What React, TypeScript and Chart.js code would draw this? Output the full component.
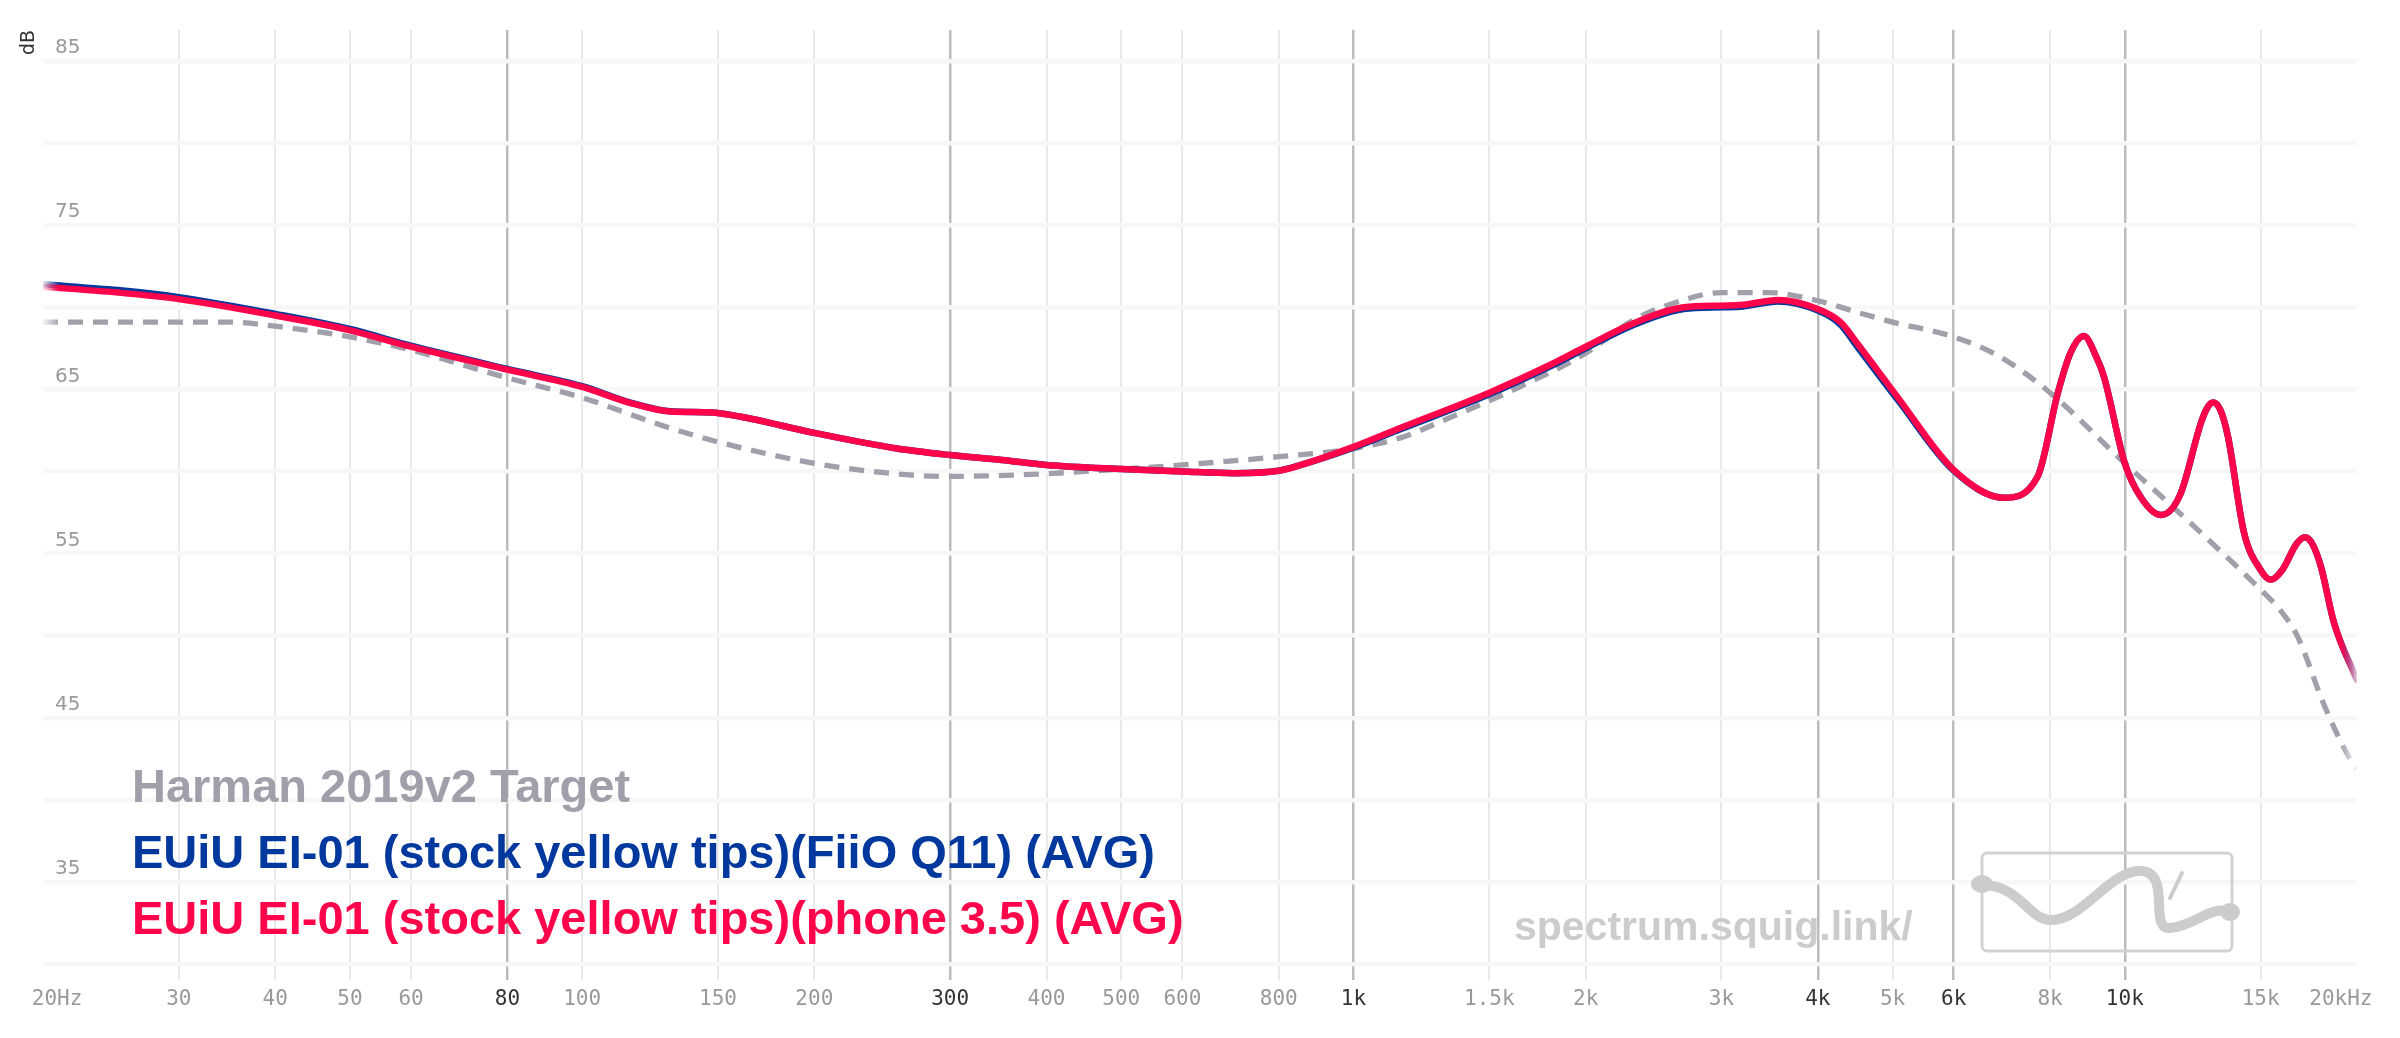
import React, { useEffect, useRef } from "react"
import { Chart, registerables } from "chart.js"

Chart.register(...registerables)

// measured curves (Hz / dB)
const measFreq = [20, 25, 30, 40, 50, 60, 80, 100, 115, 130, 147, 160, 200, 256, 300, 350, 400, 500, 600, 700, 800, 855, 1000, 1150, 1500, 1800, 2000, 2300, 2680, 3000, 3200, 3550, 4000, 4280, 4500, 5080, 6000, 6970, 7710, 8190, 8500, 8850, 9200, 9400, 10000, 10500, 11140, 11800, 12560, 12800, 13010, 13300, 13610, 14270, 15000, 15460, 16000, 16700, 17120, 17500, 17960, 18670, 20000]
const phoneDb = [71.25, 70.9, 70.5, 69.5, 68.6, 67.6, 66.2, 65.15, 64.2, 63.65, 63.6, 63.35, 62.35, 61.4, 61.0, 60.7, 60.4, 60.15, 60.0, 59.9, 60.05, 60.4, 61.5, 62.65, 64.8, 66.5, 67.6, 69.0, 70.0, 70.1, 70.15, 70.45, 69.9, 69.1, 67.8, 64.5, 60.1, 58.4, 59.7, 64.8, 67.2, 68.25, 66.9, 65.75, 60.5, 58.4, 57.35, 58.6, 63.0, 63.9, 64.2, 63.75, 62.1, 56.3, 54.0, 53.4, 54.0, 55.6, 56.0, 55.6, 54.2, 50.8, 47.3]
const fiioDb = [71.4, 71.05, 70.62, 69.6, 68.68, 67.66, 66.25, 65.2, 64.23, 63.67, 63.6, 63.35, 62.35, 61.4, 61.0, 60.7, 60.4, 60.15, 60.0, 59.9, 60.05, 60.4, 61.45, 62.57, 64.7, 66.4, 67.5, 68.9, 69.9, 70.0, 70.05, 70.35, 69.8, 68.95, 67.6, 64.35, 60.05, 58.4, 59.7, 64.8, 67.2, 68.25, 66.9, 65.75, 60.5, 58.4, 57.35, 58.6, 63.0, 63.9, 64.2, 63.75, 62.1, 56.3, 54.0, 53.4, 54.0, 55.6, 56.0, 55.6, 54.2, 50.8, 47.3]

// Harman 2019v2 target
const targetFreq = [20, 30, 35, 40, 50, 60, 80, 88, 100, 127, 150, 200, 256, 300, 393, 500, 600, 800, 1000, 1150, 1336, 1633, 2000, 2300, 2680, 3000, 3450, 4000, 4500, 5000, 6000, 6880, 8000, 10000, 11480, 13000, 15000, 15940, 16770, 18120, 19640, 20000]
const targetDb = [69.1, 69.1, 69.1, 68.85, 68.2, 67.4, 65.7, 65.2, 64.5, 62.8, 61.8, 60.5, 59.85, 59.7, 59.85, 60.15, 60.4, 60.9, 61.4, 62.05, 63.3, 65.1, 67.2, 69.2, 70.45, 70.9, 70.9, 70.4, 69.7, 69.1, 68.2, 67.0, 64.8, 60.5, 57.95, 55.6, 52.8, 51.5, 49.9, 45.8, 42.4, 41.9]

const xTicks = [20, 30, 40, 50, 60, 80, 100, 150, 200, 300, 400, 500, 600, 800, 1000, 1500, 2000, 3000, 4000, 5000, 6000, 8000, 10000, 15000, 20000]
const xTickLabels = ["20Hz", "30", "40", "50", "60", "80", "100", "150", "200", "300", "400", "500", "600", "800", "1k", "1.5k", "2k", "3k", "4k", "5k", "6k", "8k", "10k", "15k", "20kHz"]
const xMajor = [80, 300, 1000, 4000, 6000, 10000]
const yGrid = [30, 35, 40, 45, 50, 55, 60, 65, 70, 75, 80, 85]
const yLabelled = [35, 45, 55, 65, 75, 85]

const names = [
  "EUiU EI-01 (stock yellow tips)(phone 3.5) (AVG)",
  "EUiU EI-01 (stock yellow tips)(FiiO Q11) (AVG)",
  "Harman 2019v2 Target",
]
const RED = "255,4,74"
const BLUE = "0,56,158"
const GREY = "161,159,170"

// lines fade out at both ends of the plot
const fade = (rgb: string) => (c: any) => {
  const area = c.chart.chartArea
  if (!area) return `rgb(${rgb})`
  const g = c.chart.ctx.createLinearGradient(area.left, 0, area.right, 0)
  g.addColorStop(0, `rgba(${rgb},0.1)`)
  g.addColorStop(0.007, `rgb(${rgb})`)
  g.addColorStop(0.993, `rgb(${rgb})`)
  g.addColorStop(1, `rgba(${rgb},0.1)`)
  return g
}

const watermark = {
  id: "watermark",
  beforeDatasetsDraw(chart: any) {
    const c = chart.ctx
    c.save()
    c.fillStyle = "#cccccc"
    c.font = 'bold 41px "Liberation Sans", Arial, sans-serif'
    c.fillText("spectrum.squig.link/", 1514, 940)
    c.strokeStyle = "#d2d2d2"
    c.lineWidth = 3
    c.beginPath()
    c.roundRect(1982, 853, 250, 98, 5)
    c.stroke()
    c.strokeStyle = "#cccccc"
    c.lineCap = "round"
    c.lineWidth = 10
    c.beginPath()
    c.moveTo(1980, 885)
    c.bezierCurveTo(2022, 884, 2028, 922, 2053, 920)
    c.bezierCurveTo(2085, 918, 2112, 868, 2142, 871)
    c.bezierCurveTo(2172, 874, 2148, 930, 2170, 928)
    c.bezierCurveTo(2195, 926, 2210, 905, 2231, 912)
    c.stroke()
    c.fillStyle = "#cccccc"
    c.beginPath()
    c.ellipse(1982, 884, 11, 9, 0, 0, Math.PI * 2)
    c.fill()
    c.beginPath()
    c.ellipse(2230, 912, 10, 9, 0, 0, Math.PI * 2)
    c.fill()
    c.lineWidth = 4
    c.beginPath()
    c.moveTo(2182, 873)
    c.lineTo(2170, 898)
    c.stroke()
    c.restore()
  },
}

const legendText = {
  id: "legendText",
  afterDatasetsDraw(chart: any) {
    const c = chart.ctx
    c.save()
    c.font = 'bold 47px "Liberation Sans", Arial, sans-serif'
    c.textBaseline = "alphabetic"
    ;[2, 1, 0].forEach((di, i) => {
      const ds = chart.data.datasets[di]
      c.fillStyle = `rgb(${ds.rgb})`
      c.fillText(ds.label, 132, 802 + i * 66)
    })
    c.restore()
  },
}

const App: React.FC = () => {
  const canvasRef = useRef<HTMLCanvasElement>(null)

  useEffect(() => {
    document.body.style.margin = "0"
    if (!canvasRef.current) return
    const toPts = (fs: number[], vs: number[]) => fs.map((f, i) => ({ x: f, y: vs[i] }))
    const chart = new Chart(canvasRef.current.getContext("2d"), {
      type: "line",
      data: {
        datasets: [
          { label: names[0], rgb: RED, data: toPts(measFreq, phoneDb), borderColor: fade(RED), borderWidth: 6.5, borderCapStyle: "round" },
          { label: names[1], rgb: BLUE, data: toPts(measFreq, fiioDb), borderColor: fade(BLUE), borderWidth: 6.5, borderCapStyle: "round" },
          { label: names[2], rgb: GREY, data: toPts(targetFreq, targetDb), borderColor: fade(GREY), borderWidth: 5.3, borderDash: [15, 10] },
        ] as any,
      },
      options: {
        animation: false,
        responsive: false,
        devicePixelRatio: 1,
        layout: { padding: { left: 0, right: 43, top: 30, bottom: 0 } },
        elements: {
          point: { radius: 0 },
          line: { cubicInterpolationMode: "monotone", fill: false },
        },
        plugins: { legend: { display: false }, tooltip: { enabled: false } },
        scales: {
          x: {
            type: "logarithmic",
            min: 20,
            max: 20000,
            afterBuildTicks: (s: any) => {
              // the edge labels sit slightly inside the plot, as in the original
              s.ticks = xTicks.map((v, i) => ({
                value: i === 0 ? v * 1.043 : i === xTicks.length - 1 ? v * 0.953 : v,
              }))
            },
            afterFit: (s: any) => {
              s.height = 58
            },
            border: { display: false },
            grid: {
              drawTicks: false,
              color: (c: any) =>
                c.index === 0 || c.index === xTicks.length - 1
                  ? "rgba(0,0,0,0)"
                  : xMajor.includes(c.tick?.value)
                  ? "#bcbcbc"
                  : "#e9e9e9",
              lineWidth: (c: any) => (xMajor.includes(c.tick?.value) ? 2.5 : 2),
            },
            ticks: {
              autoSkip: false,
              maxRotation: 0,
              padding: 7,
              font: { family: '"DejaVu Sans Mono", monospace', size: 21 },
              color: (c: any) => (xMajor.includes(c.tick?.value) ? "#333333" : "#999999"),
              callback: (_v: any, i: number) => xTickLabels[i],
            },
          },
          y: {
            type: "linear",
            min: 29.03,
            max: 86.89,
            afterBuildTicks: (s: any) => {
              s.ticks = yGrid.map((v) => ({ value: v }))
            },
            afterFit: (s: any) => {
              s.width = 43
            },
            border: { display: false },
            grid: { drawTicks: false, color: "#f7f7f7", lineWidth: 4.5 },
            ticks: {
              mirror: true,
              padding: 12,
              labelOffset: -13,
              font: { family: '"DejaVu Sans", sans-serif', size: 20 },
              color: "#999999",
              callback: (v: any) => (yLabelled.includes(v) ? String(v) : ""),
            },
            title: {
              display: true,
              text: "dB",
              align: "end",
              color: "#333333",
              font: { family: '"DejaVu Sans", sans-serif', size: 19 },
              padding: { top: 18, bottom: 0 },
            },
          },
        },
      } as any,
      plugins: [watermark, legendText],
    })
    return () => chart.destroy()
  }, [])

  return <canvas ref={canvasRef} width={2400} height={1038} style={{ display: "block" }} />
}

export default App
